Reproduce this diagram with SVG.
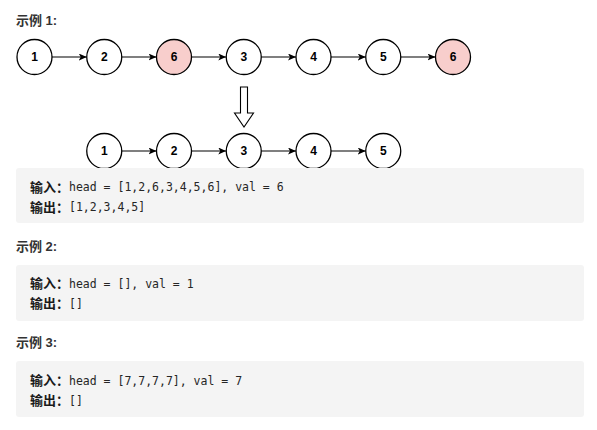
<svg xmlns="http://www.w3.org/2000/svg" width="597" height="430" viewBox="0 0 597 430">
  <style>
    .node circle { fill: #ffffff; stroke: #000000; stroke-width: 1.3; }
    .node.red circle { fill: #f8cecc; }
    .node text { font-family: "Liberation Sans", Arial, sans-serif; font-weight: bold; font-size: 12px; fill: #000000; text-anchor: middle; dominant-baseline: central; }
    .conn line { stroke: #000000; stroke-width: 1.2; marker-end: url(#arr); }
    .h { font-family: "Liberation Sans", "Noto Sans CJK SC", sans-serif; font-weight: bold; font-size: 13px; fill: #333333; }
    .box { fill: #f4f4f4; }
    .lab { font-family: "Noto Sans CJK SC", sans-serif; font-weight: bold; font-size: 13px; fill: #1a1a1a; }
    .mono { font-family: "DejaVu Sans Mono", "Liberation Mono", monospace; font-size: 11.5px; fill: #262626; }
  </style>
  <defs>
    <marker id="arr" viewBox="0 0 8 7" refX="8" refY="3.5" markerWidth="8" markerHeight="7" markerUnits="userSpaceOnUse" orient="auto">
      <path d="M0,0 L8,3.5 L0,7 L2,3.5 z" fill="#000000"/>
    </marker>
  </defs>

  <text class="h" x="16" y="25">示例 1:</text>

  <g id="connectors" class="conn">
    <line x1="52" y1="57" x2="86.75" y2="57"/>
    <line x1="121.75" y1="57" x2="156.5" y2="57"/>
    <line x1="191.5" y1="57" x2="226.25" y2="57"/>
    <line x1="261.25" y1="57" x2="296" y2="57"/>
    <line x1="331" y1="57" x2="365.75" y2="57"/>
    <line x1="400.75" y1="57" x2="435.5" y2="57"/>
    <line x1="121.75" y1="151" x2="156.5" y2="151"/>
    <line x1="191.5" y1="151" x2="226.25" y2="151"/>
    <line x1="261.25" y1="151" x2="296" y2="151"/>
    <line x1="331" y1="151" x2="365.75" y2="151"/>
  </g>

  <g id="a1" class="node"><circle cx="34.5" cy="57" r="17.5"/><text x="34.5" y="57">1</text></g>
  <g id="a2" class="node"><circle cx="104.25" cy="57" r="17.5"/><text x="104.25" y="57">2</text></g>
  <g id="a3" class="node red"><circle cx="174" cy="57" r="17.5"/><text x="174" y="57">6</text></g>
  <g id="a4" class="node"><circle cx="243.75" cy="57" r="17.5"/><text x="243.75" y="57">3</text></g>
  <g id="a5" class="node"><circle cx="313.5" cy="57" r="17.5"/><text x="313.5" y="57">4</text></g>
  <g id="a6" class="node"><circle cx="383.25" cy="57" r="17.5"/><text x="383.25" y="57">5</text></g>
  <g id="a7" class="node red"><circle cx="453" cy="57" r="17.5"/><text x="453" y="57">6</text></g>

  <g id="bigarrow">
    <polygon points="240.5,87 247.5,87 247.5,113 253.5,113 244,127 234.5,113 240.5,113" fill="#ffffff" stroke="#000000" stroke-width="1.1"/>
  </g>

  <g id="b1" class="node"><circle cx="104.25" cy="151" r="17.5"/><text x="104.25" y="151">1</text></g>
  <g id="b2" class="node"><circle cx="174" cy="151" r="17.5"/><text x="174" y="151">2</text></g>
  <g id="b3" class="node"><circle cx="243.75" cy="151" r="17.5"/><text x="243.75" y="151">3</text></g>
  <g id="b4" class="node"><circle cx="313.5" cy="151" r="17.5"/><text x="313.5" y="151">4</text></g>
  <g id="b5" class="node"><circle cx="383.25" cy="151" r="17.5"/><text x="383.25" y="151">5</text></g>

  <g id="ex1">
    <rect class="box" x="16" y="168" width="568" height="55" rx="3"/>
    <text class="lab" x="30" y="191.5">输入：</text>
    <text class="mono" x="69" y="191">head = [1,2,6,3,4,5,6], val = 6</text>
    <text class="lab" x="30" y="211.5">输出：</text>
    <text class="mono" x="69" y="211">[1,2,3,4,5]</text>
  </g>

  <text class="h" x="16" y="251">示例 2:</text>
  <g id="ex2">
    <rect class="box" x="16" y="265" width="568" height="56" rx="3"/>
    <text class="lab" x="30" y="288">输入：</text>
    <text class="mono" x="69" y="287.5">head = [], val = 1</text>
    <text class="lab" x="30" y="308">输出：</text>
    <text class="mono" x="69" y="307.5">[]</text>
  </g>

  <text class="h" x="16" y="347">示例 3:</text>
  <g id="ex3">
    <rect class="box" x="16" y="361" width="568" height="56" rx="3"/>
    <text class="lab" x="30" y="385">输入：</text>
    <text class="mono" x="69" y="384.5">head = [7,7,7,7], val = 7</text>
    <text class="lab" x="30" y="405">输出：</text>
    <text class="mono" x="69" y="404.5">[]</text>
  </g>
</svg>
